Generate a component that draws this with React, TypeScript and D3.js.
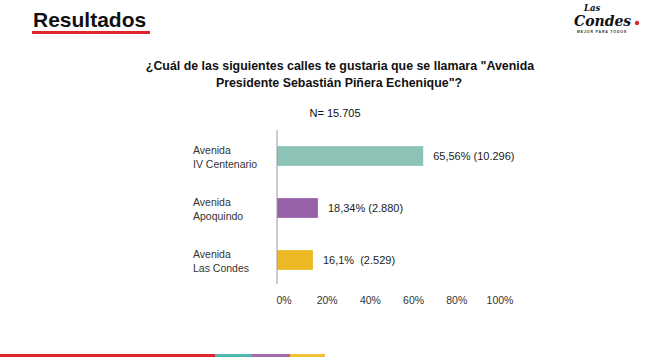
import * as d3 from 'd3'

const categories = [['Avenida', 'IV Centenario'], ['Avenida', 'Apoquindo'], ['Avenida', 'Las Condes']]
const percents = [65.56, 18.34, 16.1]
const valueLabels = ['65,56% (10.296)', '18,34% (2.880)', '16,1%  (2.529)']
const barColors = ['#8dc3b6', '#9961a8', '#eeb925']
const ticks = [0, 20, 40, 60, 80, 100]
const stripe = [
  { from: 0, to: 215, color: '#e0262a' },
  { from: 215, to: 252, color: '#4fb7ad' },
  { from: 252, to: 290, color: '#a56bae' },
  { from: 290, to: 325, color: '#f2c034' },
]

const font = 'Arial, "Liberation Sans", sans-serif'

export default function App() {
  const width = 650
  const height = 364

  const x = d3.scaleLinear([0, 100], [277, 500])
  const y = d3.scaleBand(d3.range(categories.length).map(String), [130, 286]).paddingInner(0.62).paddingOuter(0.31)

  return (
    <svg width={width} height={height} style={{ position: 'absolute', left: 0, top: 0, background: '#fff' }} fontFamily={font}>
      <rect width={width} height={height} fill="#fff" />
      {/* header */}
      <text x={33} y={27} fontSize={21} fontWeight="bold" fill="#111">Resultados</text>
      <rect x={32} y={31} width={118} height={3} fill="#e0262a" />

      {/* logo */}
      <text x={584} y={11} fontSize={8.5} fontStyle="italic" fontWeight="bold" fill="#111" fontFamily='"DejaVu Serif", serif'>Las</text>
      <text x={574} y={26} fontSize={14} fontStyle="italic" fontWeight="bold" fill="#111" fontFamily='"DejaVu Serif", serif'>Condes</text>
      <circle cx={637} cy={23} r={2.2} fill="#e0262a" />
      <text x={577} y={33} fontSize={3.6} fontWeight="bold" fill="#333" letterSpacing={0.8}>MEJOR PARA TODOS</text>

      {/* question */}
      <text x={340} y={70} fontSize={12.4} fontWeight="bold" textAnchor="middle" fill="#111">
        ¿Cuál de las siguientes calles te gustaria que se llamara "Avenida
      </text>
      <text x={339} y={87} fontSize={12.4} fontWeight="bold" textAnchor="middle" fill="#111">
        Presidente Sebastián Piñera Echenique"?
      </text>
      <text x={335} y={117} fontSize={11} textAnchor="middle" fill="#111">N= 15.705</text>

      {/* bars */}
      {percents.map((p, i) => {
        const by = y(String(i)) as number
        const bh = y.bandwidth()
        return (
          <g key={i}>
            <rect x={x(0)} y={by} width={x(p) - x(0)} height={bh} fill={barColors[i]} />
            <text x={x(p) + 10} y={by + bh / 2 + 4} fontSize={11} fill="#222" style={{ whiteSpace: 'pre' }}>{valueLabels[i]}</text>
            <text x={193} y={by + bh / 2 - 2} fontSize={10.5} fill="#333">{categories[i][0]}</text>
            <text x={193} y={by + bh / 2 + 12} fontSize={10.5} fill="#333">{categories[i][1]}</text>
          </g>
        )
      })}
      <line x1={x(0)} x2={x(0)} y1={130} y2={284} stroke="#999" strokeWidth={1} />

      {/* x tick labels */}
      {ticks.map((t) => (
        <text key={t} x={x(t) + 7 * (1 - t / 100)} y={304} fontSize={10.5} textAnchor="middle" fill="#333">{t}%</text>
      ))}

      {/* bottom stripe */}
      {stripe.map((s, i) => (
        <rect key={i} x={s.from} y={354} width={s.to - s.from} height={3} fill={s.color} />
      ))}
    </svg>
  )
}
